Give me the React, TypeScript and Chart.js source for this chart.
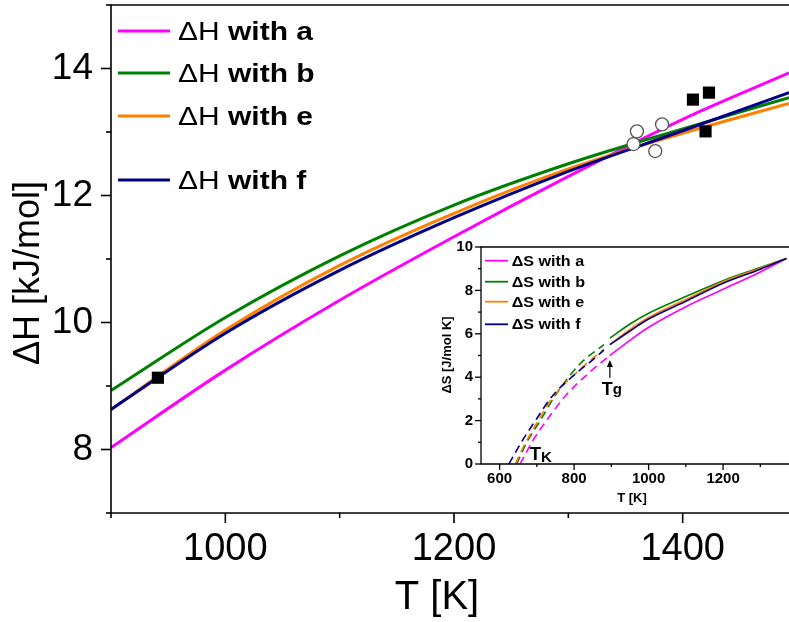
import React, { useEffect, useRef } from 'react';
import { Chart, registerables } from 'chart.js';

Chart.register(...registerables);

const FONT = '"Liberation Sans", Arial, Helvetica, sans-serif';

// ---------- main chart data ----------
const T_MAIN = [900, 1000, 1100, 1200, 1300, 1400, 1493];
const H_A = [8.03, 9.25, 10.35, 11.35, 12.3, 13.2, 13.93];
const H_B = [8.93, 10.08, 11.05, 11.85, 12.5, 13.05, 13.54];
const H_E = [8.63, 9.88, 10.9, 11.72, 12.42, 12.98, 13.45];
const H_F = [8.63, 9.83, 10.82, 11.65, 12.38, 13.02, 13.62];

const SQ_T = [941, 1409, 1423, 1420];
const SQ_H = [9.13, 13.51, 13.62, 13.01];
const CIRC_T = [1360, 1357, 1382, 1376];
const CIRC_H = [13.01, 12.81, 13.12, 12.7];

const MAIN_X_TICKS = [900, 1000, 1100, 1200, 1300, 1400];
const MAIN_Y_TICKS = [7, 8, 9, 10, 11, 12, 13, 14, 15];

const MAIN_LABELS = ['a', 'b', 'e', 'f'];
const COLORS = ['#FF00FF', '#008000', '#FF8000', '#00008B'];

// ---------- inset data ----------
const TG = 896;
const GLASS_T_A = [655, 690, 730, 780, 840, 896];
const GLASS_S_A = [0, 1.1, 2.1, 3.2, 4.2, 5.0];
const GLASS_T_B = [646, 673, 709, 753, 815, 880];
const GLASS_S_B = [0, 1.0, 2.0, 3.25, 4.6, 5.5];
const GLASS_T_E = [642, 664, 700, 744, 815, 880];
const GLASS_S_E = [0, 0.8, 1.9, 3.1, 4.35, 5.3];
const GLASS_T_F = [625, 660, 700, 740, 800, 850, 880];
const GLASS_S_F = [0, 1.05, 2.1, 3.1, 4.1, 4.8, 5.25];

const LIQ_T = [896, 950, 1000, 1100, 1200, 1300, 1370];
const LIQ_S_A = [5.0, 5.7, 6.3, 7.25, 8.05, 8.85, 9.47];
const LIQ_S_B = [5.8, 6.45, 6.95, 7.72, 8.45, 9.05, 9.47];
const LIQ_S_E = [5.5, 6.2, 6.75, 7.58, 8.4, 9.02, 9.47];
const LIQ_S_F = [5.5, 6.13, 6.68, 7.5, 8.33, 8.98, 9.47];

const INSET_X_TICKS = [600, 700, 800, 900, 1000, 1100, 1200, 1300];
const INSET_Y_TICKS = [0, 1, 2, 3, 4, 5, 6, 7, 8, 9, 10];

const pts = (xs: number[], ys: number[]) => xs.map((x, i) => ({ x, y: ys[i] }));

function line(ctx: CanvasRenderingContext2D, x1: number, y1: number, x2: number, y2: number) {
  ctx.beginPath();
  ctx.moveTo(x1, y1);
  ctx.lineTo(x2, y2);
  ctx.stroke();
}

function textStretched(ctx: CanvasRenderingContext2D, text: string, x: number, y: number, font: string, sx: number) {
  ctx.save();
  ctx.font = font;
  ctx.translate(x, y);
  ctx.scale(sx, 1);
  ctx.fillText(text, 0, 0);
  const w = ctx.measureText(text).width * sx;
  ctx.restore();
  return w;
}

function drawFrameAndTicks(chart: any, o: { major: number; minor: number; xMajor: number; yMajor: number; lw: number }) {
  const ctx: CanvasRenderingContext2D = chart.ctx;
  const { left, right, top, bottom } = chart.chartArea;
  const xs = chart.scales.x;
  const ys = chart.scales.y;
  ctx.save();
  ctx.strokeStyle = '#000';
  ctx.lineWidth = o.lw;
  ctx.lineCap = 'butt';
  line(ctx, left, top, left, bottom);
  line(ctx, left - o.lw / 2, bottom, right, bottom);
  line(ctx, left - o.lw / 2, top, right, top);
  xs.ticks.forEach((t: any) => {
    const px = xs.getPixelForValue(t.value);
    const len = Math.abs(t.value % o.xMajor) < 1e-6 ? o.major : o.minor;
    line(ctx, px, bottom, px, bottom + len);
  });
  ys.ticks.forEach((t: any) => {
    const py = ys.getPixelForValue(t.value);
    const len = Math.abs(t.value % o.yMajor) < 1e-6 ? o.major : o.minor;
    line(ctx, left - len, py, left, py);
  });
  ctx.restore();
}

const mainDecor = {
  id: 'mainDecor',
  afterDraw(chart: any) {
    const ctx: CanvasRenderingContext2D = chart.ctx;
    drawFrameAndTicks(chart, { major: 10, minor: 5, xMajor: 200, yMajor: 2, lw: 1.6 });
    ctx.save();
    ctx.fillStyle = '#000';
    ctx.font = `36px ${FONT}`;
    ctx.textAlign = 'center';
    ctx.textBaseline = 'middle';
    ctx.save();
    ctx.translate(29, 273);
    ctx.rotate(-Math.PI / 2);
    ctx.fillText('ΔH [kJ/mol]', 0, 0);
    ctx.restore();
    ctx.font = `40px ${FONT}`;
    ctx.fillText('T [K]', 437, 598);
    const ys = [31, 73, 116, 180];
    ctx.textAlign = 'left';
    ctx.textBaseline = 'alphabetic';
    chart.data.datasets.slice(0, 4).forEach((ds: any, i: number) => {
      ctx.strokeStyle = ds.borderColor;
      ctx.lineWidth = 3;
      line(ctx, 118, ys[i], 170, ys[i]);
      const w = textStretched(ctx, 'ΔH', 178, ys[i] + 8.5, `25px ${FONT}`, 1.2);
      textStretched(ctx, ' with ' + MAIN_LABELS[i], 178 + w, ys[i] + 8.5, `bold 25px ${FONT}`, 1.2);
    });
    ctx.restore();
  },
};

const insetDecor = {
  id: 'insetDecor',
  afterDraw(chart: any) {
    const ctx: CanvasRenderingContext2D = chart.ctx;
    drawFrameAndTicks(chart, { major: 6, minor: 3, xMajor: 200, yMajor: 2, lw: 1.3 });
    const xs = chart.scales.x;
    const ys = chart.scales.y;
    ctx.save();
    ctx.fillStyle = '#000';
    ctx.textAlign = 'center';
    ctx.textBaseline = 'middle';
    ctx.font = `bold 13px ${FONT}`;
    ctx.save();
    ctx.translate(47, 125);
    ctx.rotate(-Math.PI / 2);
    ctx.fillText('ΔS [J/mol K]', 0, 0);
    ctx.restore();
    ctx.fillText('T [K]', 232, 268);
    const ly = [30.7, 51.7, 71.7, 94.3];
    ctx.textAlign = 'left';
    ctx.textBaseline = 'alphabetic';
    for (let i = 0; i < 4; i++) {
      ctx.strokeStyle = COLORS[i];
      ctx.lineWidth = 1.8;
      line(ctx, 85, ly[i], 108, ly[i]);
      textStretched(ctx, 'ΔS with ' + MAIN_LABELS[i], 111.7, ly[i] + 5, `bold 14px ${FONT}`, 1.15);
    }
    const ax = xs.getPixelForValue(TG);
    const yTip = ys.getPixelForValue(4.79);
    const yBot = ys.getPixelForValue(3.97);
    ctx.strokeStyle = '#000';
    ctx.lineWidth = 1.2;
    line(ctx, ax, yBot, ax, yTip + 3);
    ctx.beginPath();
    ctx.moveTo(ax, yTip);
    ctx.lineTo(ax - 3, yTip + 7);
    ctx.lineTo(ax + 3, yTip + 7);
    ctx.closePath();
    ctx.fill();
    const tgX = ax - 8;
    ctx.font = `bold 18px ${FONT}`;
    ctx.fillText('T', tgX, yBot + 17);
    ctx.font = `bold 15px ${FONT}`;
    ctx.fillText('g', tgX + 11, yBot + 16);
    const kx = xs.getPixelForValue(680);
    const ky = ys.getPixelForValue(0.2);
    ctx.font = `bold 19px ${FONT}`;
    ctx.fillText('T', kx, ky);
    ctx.font = `bold 15px ${FONT}`;
    ctx.fillText('K', kx + 11.5, ky + 2);
    ctx.restore();
  },
};

function axisCommon(min: number, max: number, tickVals: number[], labelEvery: number, size: number, bold: boolean, tl: number, pad: number, fitKey: 'width' | 'height', fitVal: number) {
  return {
    type: 'linear' as const,
    min,
    max,
    afterBuildTicks: (s: any) => {
      s.ticks = tickVals.map((v) => ({ value: v }));
    },
    ticks: {
      autoSkip: false,
      maxRotation: 0,
      padding: pad,
      color: '#000',
      font: { family: FONT, size, weight: bold ? 'bold' : 'normal' },
      callback: (v: any) => (Math.abs(Number(v) % labelEvery) < 1e-6 ? String(v) : ''),
    },
    grid: { display: true, drawOnChartArea: false, drawTicks: true, tickLength: tl, color: 'rgba(0,0,0,0)' },
    border: { display: false },
    afterFit: (s: any) => {
      s[fitKey] = fitVal;
      s.paddingLeft = 0;
      s.paddingRight = 0;
      s.paddingTop = 0;
      s.paddingBottom = 0;
    },
  };
}

export default function App() {
  const mainRef = useRef<HTMLCanvasElement>(null);
  const insetRef = useRef<HTMLCanvasElement>(null);

  useEffect(() => {
    const series = [H_A, H_B, H_E, H_F];
    const mainSets: any[] = series.map((h, i) => ({
      label: 'ΔH with ' + MAIN_LABELS[i],
      data: pts(T_MAIN, h),
      borderColor: COLORS[i],
      backgroundColor: COLORS[i],
      borderWidth: 3,
      pointRadius: 0,
      cubicInterpolationMode: 'monotone',
      order: 4 - i,
    }));
    mainSets.push({
      label: 'squares',
      data: pts(SQ_T, SQ_H),
      showLine: false,
      pointStyle: 'rect',
      pointRadius: 8.6,
      backgroundColor: '#000',
      borderColor: '#000',
      borderWidth: 0,
      order: 0,
    });
    mainSets.push({
      label: 'circles',
      data: pts(CIRC_T, CIRC_H),
      showLine: false,
      pointStyle: 'circle',
      pointRadius: 6.5,
      backgroundColor: '#fff',
      borderColor: '#555',
      borderWidth: 1.3,
      order: 0,
    });

    const c1 = new Chart(mainRef.current as HTMLCanvasElement, {
      type: 'line',
      data: { datasets: mainSets },
      options: {
        responsive: false,
        animation: false,
        devicePixelRatio: 1,
        layout: { autoPadding: false, padding: { top: 5, left: 0, right: 0, bottom: 0 } },
        plugins: { legend: { display: false }, tooltip: { enabled: false } },
        scales: {
          x: { ...axisCommon(900, 1493, MAIN_X_TICKS, 200, 38, false, 10, 4, 'height', 109), position: 'bottom' },
          y: { ...axisCommon(7, 15, MAIN_Y_TICKS, 2, 37, false, 10, 8, 'width', 111), position: 'left' },
        },
      } as any,
      plugins: [mainDecor],
    });

    const glassT = [GLASS_T_A, GLASS_T_B, GLASS_T_E, GLASS_T_F];
    const glassS = [GLASS_S_A, GLASS_S_B, GLASS_S_E, GLASS_S_F];
    const liqS = [LIQ_S_A, LIQ_S_B, LIQ_S_E, LIQ_S_F];
    const insetSets: any[] = [];
    for (let i = 0; i < 4; i++) {
      insetSets.push({
        label: 'ΔS with ' + MAIN_LABELS[i],
        data: pts(LIQ_T, liqS[i]),
        borderColor: COLORS[i],
        borderWidth: 1.6,
        pointRadius: 0,
        cubicInterpolationMode: 'monotone',
        order: 4 - i,
      });
      insetSets.push({
        label: 'glass ' + MAIN_LABELS[i],
        data: pts(glassT[i], glassS[i]),
        borderColor: COLORS[i],
        borderWidth: 1.6,
        borderDash: [8, 5],
        pointRadius: 0,
        cubicInterpolationMode: 'monotone',
        order: 4 - i,
      });
    }

    const c2 = new Chart(insetRef.current as HTMLCanvasElement, {
      type: 'line',
      data: { datasets: insetSets },
      options: {
        responsive: false,
        animation: false,
        devicePixelRatio: 1,
        layout: { autoPadding: false, padding: { top: 17, left: 0, right: 0, bottom: 0 } },
        plugins: { legend: { display: false }, tooltip: { enabled: false } },
        scales: {
          x: { ...axisCommon(550, 1377, INSET_X_TICKS, 200, 15, true, 5, 1, 'height', 46), position: 'bottom' },
          y: { ...axisCommon(0, 10, INSET_Y_TICKS, 2, 15, true, 6, 2, 'width', 81), position: 'left' },
        },
      } as any,
      plugins: [insetDecor],
    });

    return () => {
      c1.destroy();
      c2.destroy();
    };
  }, []);

  return (
    <div style={{ position: 'fixed', left: 0, top: 0, width: 789, height: 622, background: '#fff', overflow: 'hidden' }}>
      <canvas ref={mainRef} width={789} height={622} style={{ position: 'absolute', left: 0, top: 0, width: 789, height: 622 }} />
      <canvas ref={insetRef} width={389} height={280} style={{ position: 'absolute', left: 400, top: 230, width: 389, height: 280 }} />
    </div>
  );
}
